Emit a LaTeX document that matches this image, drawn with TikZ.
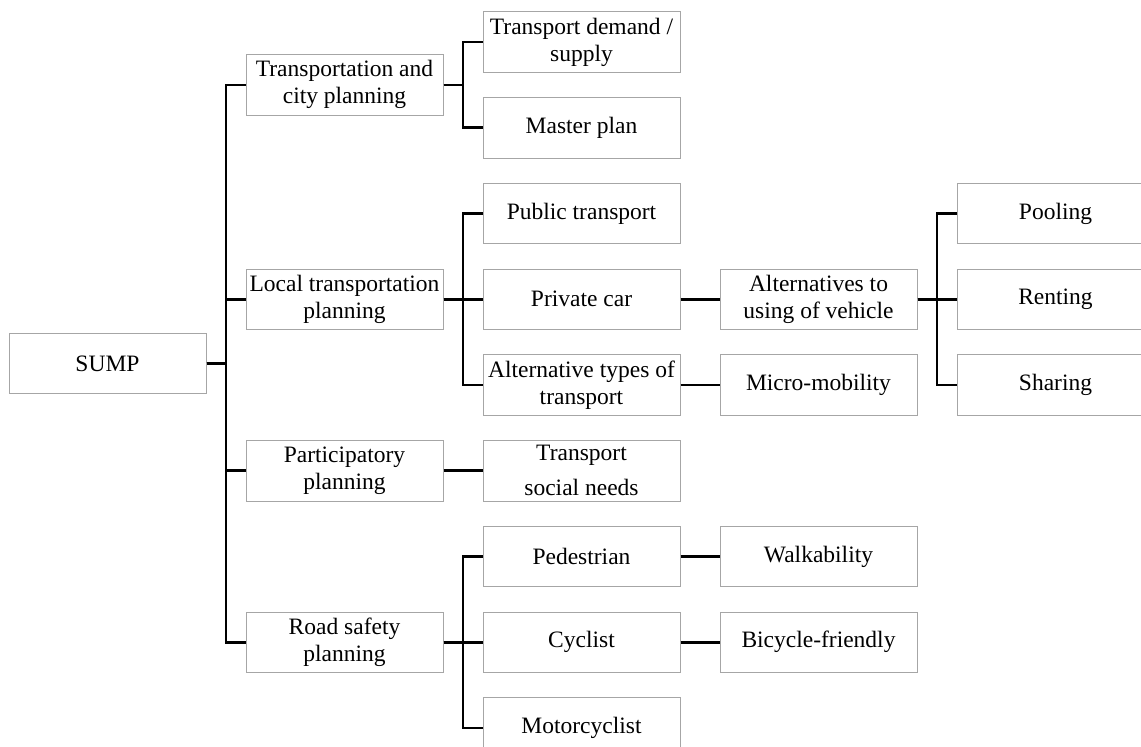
\documentclass[tikz,border=0pt]{standalone}
\usepackage{fontspec}
\setmainfont{Liberation Serif}
\usetikzlibrary{positioning,calc}
\tikzset{
  x=1pt, y=-1pt,
  node distance=24.25pt and 39pt,
  every node/.style={font=\fontsize{23.5}{27}\selectfont, align=center},
  box/.style={
    draw=gray!70, line width=1pt,
    minimum width=197pt, minimum height=60.5pt, inner xsep=1pt, inner ysep=2pt
  },
  link/.style={line width=2.7pt}
}
\begin{document}
\begin{tikzpicture}

\path[use as bounding box, clip] (0,0) rectangle (1141,747);

% second level column
\node[box] (demand) at (581.5,42) {Transport demand /\\supply};
\node[box, below=of demand]     (master)     {Master plan};
\node[box, below=of master]     (public)     {Public transport};
\node[box, below=of public]     (car)        {Private car};
\node[box, below=of car]        (alttypes)   {Alternative types of\\transport};
\node[box, below=of alttypes]   (social)     {Transport\\[8pt]social needs};
\node[box, below=of social]     (pedestrian) {Pedestrian};
\node[box, below=of pedestrian] (cyclist)    {Cyclist};
\node[box, below=of cyclist]    (motor)      {Motorcyclist};

% first level column
\node[box, left=of $(demand.west)!0.5!(master.west)$] (citypl) {Transportation and\\city planning};
\node[box, left=of car]     (localpl)  {Local transportation\\planning};
\node[box, left=of social]  (partpl)   {Participatory\\planning};
\node[box, left=of cyclist] (safetypl) {Road safety\\planning};

% root
\node[box, left=of $(citypl.west)!0.5!(safetypl.west)$] (sump) {SUMP};

% third level
\node[box, right=of car]        (altuse) {Alternatives to\\using of vehicle};
\node[box, right=of alttypes]   (micro)  {Micro-mobility};
\node[box, right=of pedestrian] (walk)   {Walkability};
\node[box, right=of cyclist]    (bike)   {Bicycle-friendly};

% fourth level
\node[box, right=of altuse]  (renting) {Renting};
\node[box, above=of renting] (pooling) {Pooling};
\node[box, below=of renting] (sharing) {Sharing};

% SUMP branches
\draw[link] (sump.east) -- ++(19.5,0) |- (citypl.west);
\draw[link] (sump.east) -- ++(19.5,0) |- (localpl.west);
\draw[link] (sump.east) -- ++(19.5,0) |- (partpl.west);
\draw[link] (sump.east) -- ++(19.5,0) |- (safetypl.west);

% transportation and city planning
\draw[link] (citypl.east) -- ++(19.5,0) |- (demand.west);
\draw[link] (citypl.east) -- ++(19.5,0) |- (master.west);

% local transportation planning
\draw[link] (localpl.east) -- ++(19.5,0) |- (public.west);
\draw[link] (localpl.east) -- (car.west);
\draw[link] (localpl.east) -- ++(19.5,0) |- (alttypes.west);
\draw[link] (car.east) -- (altuse.west);
\draw[link] (alttypes.east) -- (micro.west);
\draw[link] (altuse.east) -- ++(19.5,0) |- (pooling.west);
\draw[link] (altuse.east) -- (renting.west);
\draw[link] (altuse.east) -- ++(19.5,0) |- (sharing.west);

% participatory planning
\draw[link] (partpl.east) -- (social.west);

% road safety planning
\draw[link] (safetypl.east) -- ++(19.5,0) |- (pedestrian.west);
\draw[link] (safetypl.east) -- (cyclist.west);
\draw[link] (safetypl.east) -- ++(19.5,0) |- (motor.west);
\draw[link] (pedestrian.east) -- (walk.west);
\draw[link] (cyclist.east) -- (bike.west);

\end{tikzpicture}
\end{document}
